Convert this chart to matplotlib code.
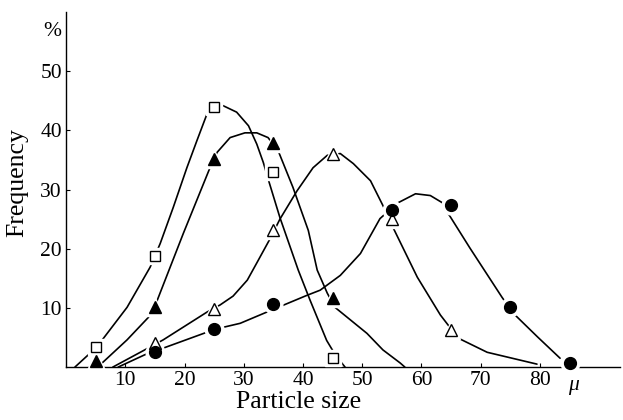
"""Particle size frequency curves, four samples, in the look of an old printed plate."""
import matplotlib

matplotlib.use("Agg")
import matplotlib.pyplot as plt  # noqa: E402
import matplotlib.transforms as mtransforms  # noqa: E402

plt.rcParams["font.family"] = ["Liberation Serif", "DejaVu Serif"]

# measured points (particle size in micron, frequency in %)
sq_x = [5, 15, 25, 35, 45]
sq_y = [3.4, 18.7, 44.0, 32.9, 1.5]
ftri_x = [5, 15, 25, 35, 45]
ftri_y = [1.0, 10.1, 35.2, 37.8, 11.6]
otri_x = [15, 25, 35, 45, 55, 65]
otri_y = [4.0, 9.8, 23.1, 36.1, 25.0, 6.2]
circ_x = [15, 25, 35, 55, 65, 75, 85]
circ_y = [2.5, 6.4, 10.6, 26.6, 27.4, 10.2, 0.7]

# hand-drawn smoothing curves
sq_cx = [1.5, 5.2, 10.3, 14.2, 15.9, 18.1, 20.4, 22.1, 23.8, 26.5, 28.8, 30.8,
         32.2, 33.3, 34.3, 36.1, 39.2, 41.2, 44.0, 45.5, 47.1]
sq_cy = [0, 3.4, 10.1, 16.9, 20.9, 27.0, 33.7, 38.3, 42.8, 44.2, 43.1, 40.8,
         37.7, 34.6, 31.2, 25.3, 16.4, 11.3, 4.5, 2.0, 0]
ftri_cx = [4.5, 6.1, 10.3, 13.9, 15.4, 19.8, 24.3, 25.5, 27.7, 30.2, 32.2, 34.1,
           35.8, 38.3, 40.9, 42.4, 44.1, 45.4, 50.8, 53.5, 56.4, 57.2]
ftri_cy = [0, 0.7, 4.6, 8.4, 11.3, 22.6, 33.7, 36.3, 38.8, 39.6, 39.6, 38.8,
           36.6, 30.4, 23.1, 16.4, 12.5, 10.1, 5.7, 2.9, 0.7, 0]
otri_cx = [7.9, 14.2, 16.4, 23.8, 26.0, 28.2, 30.6, 32.2, 34.5, 36.1, 39.0, 41.7,
           44.1, 46.3, 48.5, 51.4, 53.5, 55.2, 59.3, 63.2, 66.2, 71.1, 79.5]
otri_cy = [0, 3.4, 4.6, 9.3, 10.5, 12.0, 14.7, 17.6, 21.8, 25.0, 29.8, 33.7,
           35.8, 36.1, 34.4, 31.5, 27.3, 23.6, 15.2, 8.8, 4.9, 2.5, 0.5]
circ_cx = [8.8, 14.2, 16.4, 23.8, 26.0, 29.4, 33.9, 40.6, 42.9, 46.3, 49.7, 53.0,
           55.9, 59.0, 61.5, 63.5, 64.5, 68.2, 73.6, 75.5, 79.6, 83.4]
circ_cy = [0, 2.5, 3.2, 5.9, 6.6, 7.4, 9.3, 12.1, 13.0, 15.5, 19.2, 25.1,
           27.7, 29.3, 29.0, 27.8, 26.0, 20.1, 11.8, 9.1, 5.1, 1.5]

x_ticks = [10, 20, 30, 40, 50, 60, 70, 80]
y_ticks = [10, 20, 30, 40, 50]

SERIES = [
    # points, curve, marker, face, size
    ((sq_x, sq_y), (sq_cx, sq_cy), "s", "white", 7.0),
    ((ftri_x, ftri_y), (ftri_cx, ftri_cy), "^", "black", 8.5),
    ((otri_x, otri_y), (otri_cx, otri_cy), "^", "white", 8.5),
    ((circ_x, circ_y), (circ_cx, circ_cy), "o", "black", 8.5),
]


def main() -> None:
    fig = plt.figure(figsize=(6.23, 4.2), dpi=100)
    ax = fig.add_axes([0.106, 0.126, 0.889, 0.845])

    for (px, py), (cx, cy), mk, face, ms in SERIES:
        ax.plot(cx, cy, "-", color="black", lw=1.2, zorder=2,
                solid_capstyle="round", solid_joinstyle="round")
        # white halo so the curve breaks around each point, as on the plate
        ax.plot(px, py, mk, ms=ms + 5, mfc="white", mec="white", ls="none",
                zorder=3, clip_on=False)
    for (px, py), _, mk, face, ms in SERIES:
        ax.plot(px, py, mk, ms=ms, mfc=face, mec="black", mew=1.0, ls="none",
                zorder=4, clip_on=False)

    ax.set_xlim(0, 93.5)
    ax.set_ylim(0, 60)
    ax.set_xticks(x_ticks)
    ax.set_yticks(y_ticks)
    ax.tick_params(direction="in", length=3, width=0.8, labelsize=15.5, pad=3)
    for side in ("top", "right"):
        ax.spines[side].set_visible(False)
    for side in ("left", "bottom"):
        ax.spines[side].set_linewidth(1.0)

    # unit marks in place of the last tick labels
    ytr = mtransforms.blended_transform_factory(ax.transAxes, ax.transData)
    ax.text(-0.008, 56.8, "%", transform=ytr, ha="right", va="center", fontsize=15.5)
    xtr = mtransforms.blended_transform_factory(ax.transData, ax.transAxes)
    ax.text(85.7, -0.025, "μ", transform=xtr, ha="center", va="top",
            fontsize=15.5, style="italic")

    ax.set_xlabel("Particle size", fontsize=18.5)
    ax.set_ylabel("Frequency", fontsize=18.5, va="center")
    ax.xaxis.set_label_coords(0.42, -0.068)
    ax.yaxis.set_label_coords(-0.088, 0.52)

    fig.savefig("out.png", dpi=100)
    plt.close(fig)


if __name__ == "__main__":
    main()
